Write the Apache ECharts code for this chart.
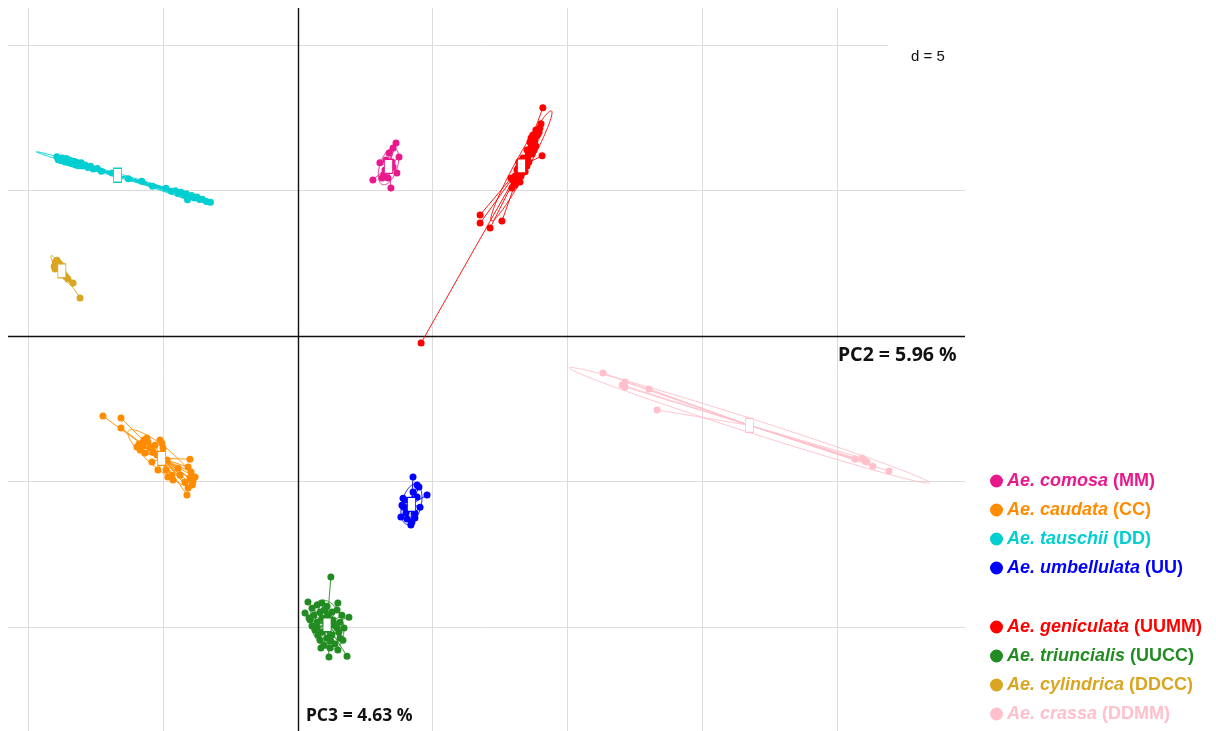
<!DOCTYPE html>
<html>
<head>
<meta charset="utf-8">
<script src="https://cdn.jsdelivr.net/npm/echarts@6/dist/echarts.min.js"></script>
<style>
  html, body { margin: 0; padding: 0; background: #ffffff; }
  #chart { width: 1216px; height: 731px; }
</style>
</head>
<body>
<div id="chart"></div>
<script>
// Species, genome formulas and colours
const species = ['Ae. comosa', 'Ae. caudata', 'Ae. tauschii', 'Ae. umbellulata',
                 'Ae. geniculata', 'Ae. triuncialis', 'Ae. cylindrica', 'Ae. crassa'];
const genomes = ['MM', 'CC', 'DD', 'UU', 'UUMM', 'UUCC', 'DDCC', 'DDMM'];
const colors  = ['#E8198B', '#FF8C00', '#00CED1', '#0000FF',
                 '#FF0000', '#228B22', '#DAA520', '#FFC0CB'];

// Individual scores on PC2 (x) and PC3 (y)
const comosa = [[3.64,6.63],[3.53,6.46],[3.38,6.29],[3.75,6.15],[3.27,6.05],[3.04,5.95],[3.53,5.81],
  [3.67,5.60],[3.34,5.43],[2.78,5.36],[3.45,5.09],[3.12,5.43],[3.23,5.70],[3.49,5.98],[3.19,5.53]];

const caudata = [[-7.24,-2.75],[-6.57,-2.82],[-6.57,-3.16],[-5.98,-3.81],[-5.86,-3.92],[-5.79,-3.68],
  [-5.57,-3.64],[-5.49,-3.85],[-5.68,-4.02],[-5.05,-3.68],[-5.01,-3.85],[-5.42,-4.33],[-5.20,-4.60],
  [-4.86,-4.26],[-4.01,-4.23],[-4.08,-4.50],[-4.83,-4.84],[-4.64,-4.95],[-4.01,-4.88],[-3.82,-4.84],
  [-3.93,-5.12],[-4.08,-5.22],[-4.12,-5.46],[-4.68,-4.78],[-4.45,-4.54],[-5.75,-3.78],[-5.61,-3.50],
  [-5.31,-3.75],[-5.38,-3.99],[-5.12,-3.57],[-5.90,-3.71],[-5.72,-3.57],[-4.38,-4.78],[-4.19,-5.02],
  [-3.90,-4.98],[-3.97,-4.67],[-4.90,-4.60],[-5.23,-4.09]];

const tauschii = [[-8.95,6.16],[-8.85,6.08],[-8.75,6.12],[-8.70,6.02],[-8.60,6.07],[-8.55,5.97],
  [-8.50,6.05],[-8.45,5.94],[-8.40,6.01],[-8.35,5.91],[-8.30,6.00],[-8.25,5.88],[-8.20,5.96],
  [-8.15,5.85],[-8.10,5.93],[-8.00,5.84],[-7.90,5.88],[-7.80,5.79],[-7.70,5.83],[-7.60,5.74],
  [-7.45,5.76],[-7.30,5.66],[-8.65,5.98],[-8.05,5.95],[-8.90,6.06],[-8.30,5.99],[-8.80,6.03],
  [-8.60,6.10],[-6.90,5.60],[-6.30,5.40],[-5.80,5.32],[-5.40,5.15],[-4.90,5.08],[-4.70,4.97],
  [-4.55,4.99],[-4.45,4.90],[-4.35,4.94],[-4.25,4.85],[-4.15,4.89],[-4.05,4.80],[-3.95,4.83],
  [-3.85,4.74],[-3.75,4.78],[-3.65,4.69],[-3.55,4.70],[-3.40,4.62],[-3.25,4.60],[-4.10,4.68]];

const umbellulata = [[4.27,-4.84],[4.42,-5.12],[4.49,-5.19],[4.79,-5.46],[4.27,-5.36],[3.97,-5.64],
  [3.93,-5.88],[3.82,-6.22],[4.05,-6.29],[4.19,-6.49],[4.34,-6.25],[4.53,-5.88],[4.42,-5.53],
  [4.01,-6.08],[4.23,-6.39],[4.34,-6.08],[3.86,-5.81],[3.90,-5.57]];

const geniculata = [[9.09,7.84],[9.02,7.29],[9.06,6.19],[4.57,-0.24],[6.76,4.16],[6.76,3.88],
  [7.13,3.71],[7.57,3.95],[7.94,5.09],[8.02,5.22],[8.09,5.36],[8.06,5.50],[8.17,5.46],[8.24,5.64],
  [8.31,5.77],[8.13,5.70],[8.39,5.91],[8.46,6.05],[8.54,6.18],[8.35,6.12],[8.57,6.32],[8.65,6.46],
  [8.72,6.60],[8.80,6.73],[8.61,6.67],[8.87,6.87],[8.95,7.01],[8.50,6.39],[8.20,5.98],[8.43,5.64],
  [7.98,5.36],[8.24,5.29],[8.69,6.25],[8.76,6.39],[8.83,6.53],[8.06,5.19],[8.28,5.50],[8.50,5.84],
  [8.57,5.98],[8.65,6.80],[8.72,6.91],[8.17,5.77],[7.91,5.43],[8.98,7.15],[8.91,6.94],[8.83,7.08],
  [8.76,6.80]];

const triuncialis = [[1.22,-8.28],[0.37,-9.14],[1.48,-9.17],[1.89,-9.66],[1.15,-11.03],[1.82,-11.00],
  [0.26,-9.52],[0.52,-9.35],[0.71,-9.24],[0.89,-9.17],[1.08,-9.28],[0.82,-9.48],[0.59,-9.59],
  [0.45,-9.76],[0.71,-9.83],[0.89,-9.69],[1.26,-9.48],[1.45,-9.41],[1.63,-9.59],[1.56,-9.83],
  [1.71,-10.03],[1.45,-10.03],[1.26,-10.27],[1.08,-10.38],[0.89,-10.17],[0.71,-10.03],[0.52,-9.96],
  [0.82,-10.45],[0.97,-10.62],[1.19,-10.72],[1.37,-10.58],[1.56,-10.38],[1.34,-9.93],[0.74,-10.27],
  [1.04,-9.93],[0.41,-9.69],[0.63,-10.10],[1.52,-10.17],[1.67,-10.45],[1.11,-9.59],[0.97,-9.41],
  [1.30,-9.76],[1.19,-10.48],[1.48,-10.79],[0.85,-10.72]];

const cylindrica = [[-8.98,2.51],[-8.95,2.44],[-8.91,2.54],[-9.02,2.30],[-8.83,2.47],[-8.69,2.10],
  [-8.61,2.03],[-8.54,1.96],[-8.35,1.82],[-8.09,1.31],[-8.76,2.34],[-9.00,2.55],[-8.95,2.60],
  [-9.05,2.40]];

const crassa = [[11.32,-1.27],[12.14,-1.58],[12.14,-1.75],[12.03,-1.68],[13.03,-1.82],[13.33,-2.54],
  [20.68,-4.23],[21.05,-4.30],[21.12,-4.33],[21.34,-4.47],[21.94,-4.64],[20.94,-4.19]];

const groups = [comosa, caudata, tauschii, umbellulata, geniculata, triuncialis, cylindrica, crassa];

// Axis extents and grid spacing (d = 5)
const xLim = [-10.765, 24.76];
const yLim = [-13.57, 11.27];
const xGrid = [-10, -5, 5, 10, 15, 20];
const yGrid = [-10, -5, 5, 10];
const ellipseCoeff = 1.5;

function centroid(pts) {
  let sx = 0, sy = 0;
  pts.forEach(p => { sx += p[0]; sy += p[1]; });
  return [sx / pts.length, sy / pts.length];
}

// Inertia ellipse (coeff * sqrt of eigenvalues of the covariance matrix)
function inertiaEllipse(pts, coeff) {
  const n = pts.length;
  const [mx, my] = centroid(pts);
  let vx = 0, vy = 0, cxy = 0;
  pts.forEach(p => {
    vx += (p[0] - mx) ** 2 / n;
    vy += (p[1] - my) ** 2 / n;
    cxy += (p[0] - mx) * (p[1] - my) / n;
  });
  const delta = Math.sqrt((vx - vy) ** 2 + 4 * cxy * cxy);
  const l1 = (vx + vy + delta) / 2;
  const l2 = Math.max(vx + vy - l1, 0);
  let ux, uy;
  if (Math.abs(cxy) > 1e-12) { ux = cxy; uy = l1 - vx; }
  else if (vx >= vy) { ux = 1; uy = 0; } else { ux = 0; uy = 1; }
  const nn = Math.hypot(ux, uy); ux /= nn; uy /= nn;
  const a = coeff * Math.sqrt(l1), b = coeff * Math.sqrt(l2);
  const out = [];
  for (let i = 0; i <= 120; i++) {
    const t = 2 * Math.PI * i / 120;
    const c = Math.cos(t), s = Math.sin(t);
    out.push([mx + a * c * ux - b * s * uy, my + a * c * uy + b * s * ux]);
  }
  return out;
}

const series = [];

// reference grid and the two principal axes
series.push({
  type: 'lines', coordinateSystem: 'cartesian2d', silent: true, z: 1,
  lineStyle: { color: '#DCDCDC', width: 1, opacity: 1 },
  data: xGrid.map(v => ({ coords: [[v, yLim[0]], [v, yLim[1]]] }))
    .concat(yGrid.map(v => ({ coords: [[xLim[0], v], [xLim[1], v]] })))
});
series.push({
  type: 'lines', coordinateSystem: 'cartesian2d', silent: true, z: 1,
  lineStyle: { color: '#111111', width: 1.4, opacity: 1 },
  data: [{ coords: [[0, yLim[0]], [0, yLim[1]]] }, { coords: [[xLim[0], 0], [xLim[1], 0]] }]
});

groups.forEach((pts, k) => {
  const col = colors[k];
  const c = centroid(pts);
  // star: each individual joined to its group centroid
  series.push({
    name: species[k], type: 'lines', coordinateSystem: 'cartesian2d', z: 3,
    lineStyle: { color: col, width: 0.9, opacity: 1 },
    data: pts.map(p => ({ coords: [p, c] }))
  });
  series.push({
    name: species[k], type: 'lines', coordinateSystem: 'cartesian2d', polyline: true, z: 3,
    lineStyle: { color: col, width: 0.9, opacity: 1 },
    data: [{ coords: inertiaEllipse(pts, ellipseCoeff) }]
  });
  series.push({
    name: species[k], type: 'scatter', z: 4, symbol: 'circle', symbolSize: 7,
    itemStyle: { color: col, opacity: 1 },
    data: pts
  });
  series.push({
    name: species[k], type: 'scatter', z: 5, symbol: 'rect', symbolSize: [8, 14],
    itemStyle: { color: '#FFFFFF', borderColor: col, borderWidth: 1, opacity: 1 },
    data: [c]
  });
});

// legend text: italic species name followed by the genome formula
const rich = {};
species.forEach((s, k) => {
  rich['i' + k] = { color: colors[k], fontStyle: 'italic', fontWeight: 'bold', fontSize: 18,
                    fontFamily: 'Liberation Sans, Arial, sans-serif', lineHeight: 20 };
  rich['b' + k] = { color: colors[k], fontWeight: 'bold', fontSize: 18,
                    fontFamily: 'Liberation Sans, Arial, sans-serif', lineHeight: 20 };
});
function legendLabel(name) {
  const k = species.indexOf(name);
  return '{i' + k + '|' + name + '}{b' + k + '| (' + genomes[k] + ')}';
}
function legendBlock(idx, top) {
  return {
    orient: 'vertical', left: 990, top: top, padding: 0, itemGap: 11,
    itemWidth: 11, itemHeight: 11, selectedMode: false,
    formatter: legendLabel,
    textStyle: { rich: rich },
    data: idx.map(k => ({ name: species[k], icon: 'circle', itemStyle: { color: colors[k] } }))
  };
}

const chart = echarts.init(document.getElementById('chart'), null, { renderer: 'canvas' });
chart.setOption({
  animation: false,
  backgroundColor: '#FFFFFF',
  grid: { left: 8, right: 251, top: 8, bottom: 0 },
  xAxis: { type: 'value', min: xLim[0], max: xLim[1], show: false },
  yAxis: { type: 'value', min: yLim[0], max: yLim[1], show: false },
  legend: [legendBlock([0, 1, 2, 3], 472), legendBlock([4, 5, 6, 7], 618)],
  graphic: [
    { type: 'rect', z: 10, shape: { x: 888, y: 8, width: 77, height: 70 }, style: { fill: '#FFFFFF' } },
    { type: 'text', z: 11, x: 911, y: 57,
      style: { text: 'd = 5', fill: '#111', font: '15px "Liberation Sans", Arial, sans-serif', verticalAlign: 'middle' } },
    { type: 'text', z: 11, x: 838, y: 355,
      style: { text: 'PC2 = 5.96 %', fill: '#111', font: 'bold 19.5px "Noto Sans", sans-serif', verticalAlign: 'middle' } },
    { type: 'text', z: 11, x: 306, y: 716,
      style: { text: 'PC3 = 4.63 %', fill: '#111', font: 'bold 17.5px "Noto Sans", sans-serif', verticalAlign: 'middle' } }
  ],
  series: series
});
</script>
</body>
</html>
